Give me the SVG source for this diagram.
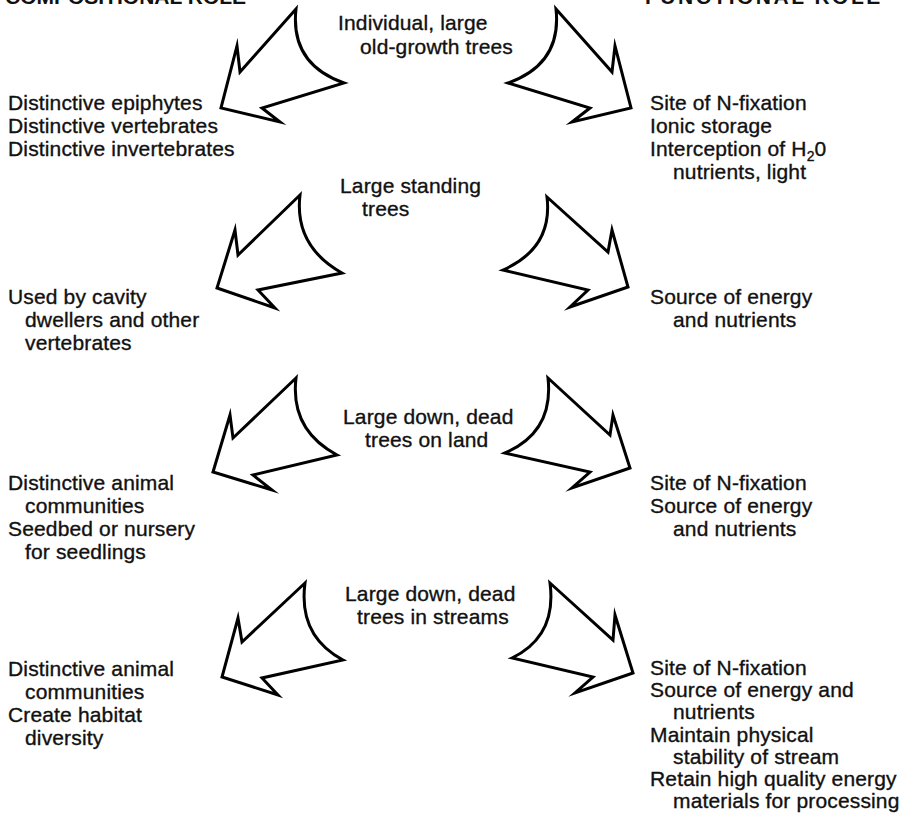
<svg xmlns="http://www.w3.org/2000/svg" width="902" height="814" viewBox="0 0 902 814">
<style>
.t{font-family:"Liberation Sans",Arial,sans-serif;font-size:21px;letter-spacing:0.15px;fill:#111;stroke:#111;stroke-width:0.35}
.h{font-family:"Liberation Sans",Arial,sans-serif;font-size:21px;font-weight:bold;fill:#111}
.a{fill:#fff;stroke:#000;stroke-width:3;stroke-linejoin:miter;stroke-miterlimit:10}
</style>
<rect width="902" height="814" fill="#fff"/>
<g id="headers">
<text class="h" x="5" y="4">COMPOSITIONAL ROLE</text>
<text class="h" x="645" y="4" letter-spacing="2.5">FUNCTIONAL ROLE</text>
</g>
<g id="connectors">
<path class="a" d="M296 9 L240 72 L237 46 L221 108 L280 122 L262 108 L344 83 Q290 64 296 9 Z"/>
<path class="a" d="M556 9 L612 72 L615 46 L631 108 L572 122 L590 108 L508 83 Q562 64 556 9 Z"/>
<path class="a" d="M300 195 L238 255 L235 230 L217 288 L275 308 L258 290 L342 273 Q294 246 300 195 Z"/>
<path class="a" d="M547 197 L608 252 L612 230 L628 287 L570 307 L588 290 L503 270 Q553 248 547 197 Z"/>
<path class="a" d="M296 378 L233 438 L230 415 L213 472 L272 490 L253 475 L337 455 Q290 430 296 378 Z"/>
<path class="a" d="M548 378 L610 435 L613 415 L630 468 L572 488 L590 472 L505 453 Q554 432 548 378 Z"/>
<path class="a" d="M305 583 L242 642 L238 618 L222 677 L278 695 L262 678 L343 660 Q298 636 305 583 Z"/>
<path class="a" d="M550 583 L613 640 L615 615 L633 673 L575 693 L593 677 L512 658 Q557 636 550 583 Z"/>
</g>
<g id="n1">
<text class="t" x="338" y="30">Individual, large</text>
<text class="t" x="360" y="54">old-growth trees</text>
</g>
<g id="n1-comp">
<text class="t" x="8" y="110">Distinctive epiphytes</text>
<text class="t" x="8" y="133">Distinctive vertebrates</text>
<text class="t" x="8" y="156">Distinctive invertebrates</text>
</g>
<g id="n1-func">
<text class="t" x="650" y="110">Site of N-fixation</text>
<text class="t" x="650" y="133">Ionic storage</text>
<text class="t" x="650" y="156">Interception of H<tspan dy="5" font-size="14">2</tspan><tspan dy="-5">0</tspan></text>
<text class="t" x="673" y="179">nutrients, light</text>
</g>
<g id="n2">
<text class="t" x="340" y="193">Large standing</text>
<text class="t" x="362" y="216">trees</text>
</g>
<g id="n2-comp">
<text class="t" x="8" y="304">Used by cavity</text>
<text class="t" x="25" y="327">dwellers and other</text>
<text class="t" x="25" y="350">vertebrates</text>
</g>
<g id="n2-func">
<text class="t" x="650" y="304">Source of energy</text>
<text class="t" x="673" y="327">and nutrients</text>
</g>
<g id="n3">
<text class="t" x="343" y="424">Large down, dead</text>
<text class="t" x="365" y="447">trees on land</text>
</g>
<g id="n3-comp">
<text class="t" x="8" y="490">Distinctive animal</text>
<text class="t" x="25" y="513">communities</text>
<text class="t" x="8" y="536">Seedbed or nursery</text>
<text class="t" x="25" y="559">for seedlings</text>
</g>
<g id="n3-func">
<text class="t" x="650" y="490">Site of N-fixation</text>
<text class="t" x="650" y="513">Source of energy</text>
<text class="t" x="673" y="536">and nutrients</text>
</g>
<g id="n4">
<text class="t" x="345" y="601">Large down, dead</text>
<text class="t" x="357" y="624">trees in streams</text>
</g>
<g id="n4-comp">
<text class="t" x="8" y="676">Distinctive animal</text>
<text class="t" x="25" y="699">communities</text>
<text class="t" x="8" y="722">Create habitat</text>
<text class="t" x="25" y="745">diversity</text>
</g>
<g id="n4-func">
<text class="t" x="650" y="675">Site of N-fixation</text>
<text class="t" x="650" y="697">Source of energy and</text>
<text class="t" x="673" y="719">nutrients</text>
<text class="t" x="650" y="742">Maintain physical</text>
<text class="t" x="673" y="764">stability of stream</text>
<text class="t" x="650" y="786">Retain high quality energy</text>
<text class="t" x="673" y="808">materials for processing</text>
</g>
</svg>
